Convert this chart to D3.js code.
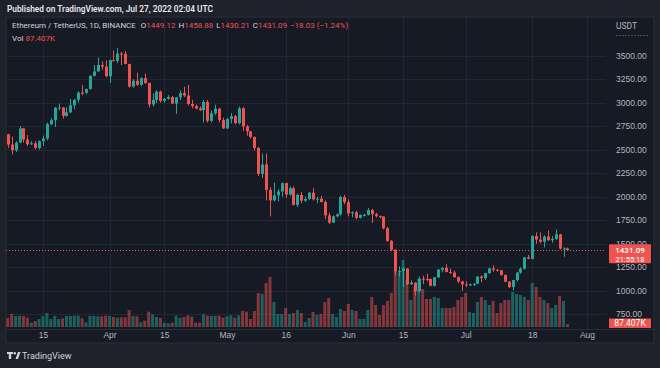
<!DOCTYPE html>
<html>
<head>
<meta charset="utf-8">
<script src="https://cdn.jsdelivr.net/npm/d3@7"></script>
<style>
  html, body { margin: 0; padding: 0; background: #1e212a; }
  svg { display: block; font-family: Roboto, "Liberation Sans", sans-serif; }
</style>
</head>
<body>
<svg class="chart"></svg>
<script>
// ETH/USDT daily candles, 6 Mar 2022 .. 27 Jul 2022
const firstDay = "2022-03-06";
const opens = [
  2665, 2555, 2495, 2575, 2727, 2608, 2558, 2568, 2518, 2591, 2620, 2772, 2814, 2945, 2948, 2861, 2897, 2972, 3031, 3108, 3106, 3146, 3286, 3333, 3401, 3385,
  3282, 3452, 3445, 3522, 3521, 3411, 3171, 3233, 3190, 3261, 3210, 2981, 3030, 3118, 3019, 3041, 3060, 2991, 3057, 3103, 3077, 2986, 2964, 2938, 2921, 3008, 2808, 2888, 2936, 2816,
  2727, 2826, 2857, 2783, 2940, 2748, 2695, 2636, 2518, 2242, 2343, 2072, 1961, 2014, 2056, 2145, 2023, 2090, 1913, 2018, 1958, 1976, 2042, 1972, 1979, 1944, 1802, 1724, 1792, 1812, 1996,
  1942, 1823, 1834, 1775, 1805, 1806, 1859, 1813, 1793, 1789, 1665, 1529, 1436, 1207, 1210, 1236, 1069, 1086, 995, 1128, 1126, 1124, 1052, 1143, 1225, 1243, 1199, 1193, 1144, 1099,
  1067, 1060, 1067, 1074, 1150, 1134, 1187, 1237, 1222, 1217, 1168, 1097, 1038, 1113, 1192, 1233, 1355, 1339, 1581, 1544, 1521, 1576, 1537, 1551, 1599, 1448, 1449.12
];
const highs = [
  2668, 2640, 2590, 2750, 2730, 2655, 2590, 2590, 2600, 2650, 2790, 2835, 2955, 2990, 2955, 2950, 3040, 3040, 3120, 3190, 3150, 3290, 3400, 3480, 3440, 3450,
  3460, 3555, 3580, 3540, 3550, 3415, 3250, 3320, 3270, 3310, 3215, 3100, 3130, 3130, 3050, 3080, 3070, 3060, 3130, 3170, 3190, 3030, 2980, 2960, 3030, 3030, 2920, 2980, 2945, 2840,
  2840, 2890, 2870, 2960, 2955, 2760, 2700, 2640, 2530, 2460, 2460, 2100, 2150, 2080, 2150, 2150, 2110, 2110, 2035, 2050, 2000, 2050, 2090, 2000, 2010, 1960, 1830, 1800, 1820, 2010,
  2020, 1970, 1845, 1850, 1810, 1820, 1880, 1870, 1830, 1800, 1790, 1680, 1540, 1440, 1260, 1250, 1240, 1110, 1090, 1150, 1160, 1180, 1130, 1145, 1230, 1250, 1280, 1235, 1215, 1150,
  1105, 1100, 1075, 1080, 1155, 1165, 1190, 1245, 1270, 1230, 1220, 1170, 1100, 1115, 1200, 1250, 1360, 1380, 1590, 1620, 1620, 1590, 1640, 1580, 1650, 1605, 1463, 1458.88
];
const lows = [
  2520, 2450, 2475, 2570, 2575, 2540, 2550, 2505, 2500, 2540, 2600, 2760, 2740, 2920, 2830, 2850, 2890, 2930, 3000, 3080, 3090, 3140, 3280, 3330, 3350, 3270,
  3210, 3440, 3420, 3400, 3410, 3160, 3160, 3180, 3180, 3200, 2950, 2960, 2995, 3000, 3000, 3030, 2985, 2880, 3030, 3060, 2970, 2940, 2930, 2910, 2790, 2790, 2790, 2870, 2790, 2720,
  2720, 2780, 2770, 2770, 2700, 2650, 2620, 2490, 2220, 2200, 1960, 1790, 1950, 1950, 2000, 1990, 2010, 1905, 1890, 1930, 1945, 1965, 1960, 1930, 1940, 1760, 1710, 1720, 1780, 1800,
  1920, 1790, 1780, 1760, 1770, 1790, 1800, 1720, 1780, 1770, 1650, 1520, 1420, 1170, 1150, 1040, 1060, 1060, 950, 980, 1070, 1100, 1045, 1045, 1135, 1195, 1195, 1180, 1140, 1080,
  1000, 1040, 1050, 1050, 1070, 1090, 1115, 1180, 1200, 1205, 1160, 1090, 1030, 1005, 1095, 1180, 1225, 1335, 1335, 1500, 1505, 1460, 1530, 1510, 1540, 1440, 1360, 1430.21
];
const closes = [
  2555, 2495, 2575, 2727, 2608, 2558, 2568, 2518, 2591, 2620, 2772, 2814, 2945, 2948, 2861, 2897, 2972, 3031, 3108, 3106, 3146, 3286, 3333, 3401, 3385, 3282,
  3452, 3445, 3522, 3521, 3411, 3171, 3233, 3190, 3261, 3210, 2981, 3030, 3118, 3019, 3041, 3060, 2991, 3057, 3103, 3077, 2986, 2964, 2938, 2921, 3008, 2808, 2888, 2936, 2816, 2727,
  2826, 2857, 2783, 2940, 2748, 2695, 2636, 2518, 2242, 2343, 2072, 1961, 2014, 2056, 2145, 2023, 2090, 1913, 2018, 1958, 1976, 2042, 1972, 1979, 1944, 1802, 1724, 1792, 1812, 1996, 1942,
  1823, 1834, 1775, 1805, 1806, 1859, 1813, 1793, 1789, 1665, 1529, 1436, 1207, 1210, 1236, 1069, 1086, 995, 1128, 1126, 1124, 1052, 1143, 1225, 1243, 1199, 1193, 1144, 1099, 1067,
  1060, 1067, 1074, 1150, 1134, 1187, 1237, 1222, 1217, 1168, 1097, 1038, 1113, 1192, 1233, 1355, 1339, 1581, 1544, 1521, 1576, 1537, 1551, 1599, 1448, 1449.12, 1431.09
];
// volume in thousands of ETH
const volumes = [
  270, 390, 330, 340, 330, 280, 130, 180, 240, 330, 420, 240, 330, 240, 260, 330, 330, 340, 340, 260, 140, 330, 330, 320, 320, 340,
  330, 300, 280, 290, 290, 510, 330, 320, 140, 190, 460, 380, 300, 270, 130, 110, 130, 340, 270, 300, 350, 310, 130, 130, 380, 340, 330, 330, 340, 280,
  320, 350, 280, 350, 480, 460, 240, 480, 1020, 1000, 1320, 1500, 750, 390, 390, 570, 390, 420, 510, 420, 150, 270, 450, 360, 390, 750, 870, 390, 300, 540, 480,
  690, 510, 480, 240, 240, 510, 900, 660, 360, 660, 780, 1020, 1740, 1650, 2010, 1410, 810, 1200, 1440, 1140, 840, 840, 900, 870, 570, 570, 570, 600, 810, 900,
  1020, 450, 420, 750, 900, 810, 660, 780, 420, 720, 810, 810, 1050, 990, 960, 900, 810, 1320, 1200, 900, 810, 720, 570, 660, 930, 780, 87.407
];

const timeTicks = ["2022-03-15", "2022-04-01", "2022-04-15", "2022-05-01", "2022-05-16", "2022-06-01", "2022-06-15", "2022-07-01", "2022-07-18", "2022-08-01"];
const timeLabels = ["15", "Apr", "15", "May", "16", "Jun", "15", "Jul", "18", "Aug"];
const priceTicks = [750, 1000, 1250, 1500, 1750, 2000, 2250, 2500, 2750, 3000, 3250, 3500];

const width = 660, height = 368;
const pane = { left: 6, top: 17, right: 606, bottom: 329, outerRight: 654, axisBottom: 343 };
const upColor = "#26a69a", downColor = "#ef5350";
const gridColor = "#232733";

const parseDay = d3.utcParse("%Y-%m-%d");
const days = opens.map((_, i) => d3.utcDay.offset(parseDay(firstDay), i));

const svg = d3.select(".chart").attr("width", width).attr("height", height);

// scales
const x = d3.scaleUtc().domain([parseDay(timeTicks[0]), parseDay(timeTicks[timeTicks.length - 1])]).range([43, 587]);
const y = d3.scaleLinear().domain([750, 3500]).range([314.2, 55.7]);
const yVol = d3.scaleLinear().domain([0, d3.max(volumes)]).range([327, 260]);

// backgrounds
svg.append("rect").attr("width", width).attr("height", height).attr("fill", "#1e212a");
svg.append("rect")
  .attr("x", pane.left).attr("y", pane.top)
  .attr("width", pane.outerRight - pane.left).attr("height", pane.axisBottom - pane.top)
  .attr("fill", "#161a25").attr("stroke", "#2a2e39");

// grid
const grid = svg.append("g");
grid.selectAll("line.v").data(timeTicks).join("line")
  .attr("x1", d => Math.round(x(parseDay(d))) + 0.5).attr("x2", d => Math.round(x(parseDay(d))) + 0.5)
  .attr("y1", pane.top).attr("y2", pane.bottom)
  .attr("stroke", gridColor);
grid.selectAll("line.h").data(priceTicks).join("line")
  .attr("x1", pane.left).attr("x2", pane.right)
  .attr("y1", d => Math.round(y(d)) + 0.5).attr("y2", d => Math.round(y(d)) + 0.5)
  .attr("stroke", gridColor);

// volume bars
svg.append("g").selectAll("rect").data(volumes).join("rect")
  .attr("x", (d, i) => x(days[i]) - 1.5)
  .attr("width", 3)
  .attr("y", d => yVol(d))
  .attr("height", d => yVol(0) - yVol(d))
  .attr("fill", (d, i) => closes[i] >= opens[i] ? upColor : downColor)
  .attr("fill-opacity", 0.5);

// candles
const candles = svg.append("g").selectAll("g").data(days).join("g")
  .attr("fill", (d, i) => closes[i] >= opens[i] ? upColor : downColor)
  .attr("stroke", (d, i) => closes[i] >= opens[i] ? upColor : downColor);
candles.append("line")
  .attr("x1", d => Math.round(x(d)) + 0.5).attr("x2", d => Math.round(x(d)) + 0.5)
  .attr("y1", (d, i) => y(highs[i])).attr("y2", (d, i) => y(lows[i]));
candles.append("rect")
  .attr("stroke", "none")
  .attr("x", d => Math.round(x(d)) - 1)
  .attr("width", 3)
  .attr("y", (d, i) => y(Math.max(opens[i], closes[i])))
  .attr("height", (d, i) => Math.max(1, Math.abs(y(opens[i]) - y(closes[i]))));

// last price line
const last = closes[closes.length - 1];
svg.append("line")
  .attr("x1", pane.left).attr("x2", pane.right)
  .attr("y1", Math.round(y(last)) + 0.5).attr("y2", Math.round(y(last)) + 0.5)
  .attr("stroke", downColor).attr("stroke-dasharray", "1,2");

// time axis
const xAxis = svg.append("g")
  .attr("transform", `translate(0,${pane.bottom})`)
  .call(d3.axisBottom(x).tickValues(timeTicks.map(parseDay)).tickFormat((d, i) => timeLabels[i]).tickSize(0).tickPadding(3));
xAxis.select(".domain").attr("stroke", "#2a2e39").attr("d", `M${pane.left},0.5H${pane.outerRight}`);
xAxis.selectAll("text").attr("fill", "#b2b5be").attr("font-size", 8.5).attr("font-family", null);

// price axis
const yAxis = svg.append("g")
  .attr("transform", `translate(${pane.right},0)`)
  .call(d3.axisRight(y).tickValues(priceTicks).tickFormat(d => d.toFixed(2)).tickSize(0).tickPadding(10));
yAxis.select(".domain").remove();
yAxis.selectAll("text").attr("fill", "#b2b5be").attr("font-size", 8.5).attr("font-family", null);

svg.append("text").attr("x", 616).attr("y", 29).attr("fill", "#b2b5be").attr("font-size", 8.5).text("USDT");
svg.append("line").attr("x1", 616).attr("x2", 648).attr("y1", 35.5).attr("y2", 35.5)
  .attr("stroke", "#4a4e59").attr("stroke-dasharray", "2,1");

// price tag
const ly = y(last);
svg.append("rect").attr("x", 609).attr("y", ly - 6).attr("width", 42).attr("height", 19).attr("rx", 1).attr("fill", downColor);
svg.append("text").attr("x", 630).attr("y", ly + 3).attr("text-anchor", "middle").attr("fill", "#fff").attr("font-size", 8).attr("font-weight", 500).text(last.toFixed(2));
svg.append("text").attr("x", 630).attr("y", ly + 11.5).attr("text-anchor", "middle").attr("fill", "#fff").attr("font-size", 7.5).text("21:55:18");

// volume tag
const lastVol = volumes[volumes.length - 1];
svg.append("rect").attr("x", 609).attr("y", 318.5).attr("width", 42).attr("height", 9.5).attr("fill", downColor);
svg.append("text").attr("x", 630).attr("y", 326).attr("text-anchor", "middle").attr("fill", "#fff").attr("font-size", 8.5).text(lastVol.toFixed(3) + "K");

// header
svg.append("text").attr("x", 7).attr("y", 12).attr("fill", "#e8e9ec").attr("font-size", 8.3).attr("font-weight", 600)
  .text("Published on TradingView.com, Jul 27, 2022 02:04 UTC");

const legend = svg.append("text").attr("x", 12).attr("y", 28).attr("font-size", 8).attr("fill", "#d1d4dc");
legend.append("tspan").text("Ethereum / TetherUS, 1D, BINANCE ");
const ohlc = [["O", opens], ["H", highs], ["L", lows], ["C", closes]];
ohlc.forEach(([k, arr]) => {
  legend.append("tspan").attr("dx", 3).text(k);
  legend.append("tspan").attr("fill", downColor).text(arr[arr.length - 1].toFixed(2));
});
const chg = last - opens[opens.length - 1];
legend.append("tspan").attr("dx", 3).attr("fill", downColor)
  .text(`\u2212${Math.abs(chg).toFixed(2)} (\u2212${Math.abs(chg / opens[opens.length - 1] * 100).toFixed(2)}%)`);

const volLegend = svg.append("text").attr("x", 12).attr("y", 41).attr("font-size", 8).attr("fill", "#d1d4dc");
volLegend.append("tspan").text("Vol ");
volLegend.append("tspan").attr("fill", downColor).text(lastVol.toFixed(3) + "K");

// footer logo
const logo = svg.append("g").attr("transform", "translate(7,352)").attr("fill", "#d1d4dc");
logo.append("path").attr("d", "M0,0H6V2H4.2V7H1.8V2H0Z");
logo.append("circle").attr("cx", 7.8).attr("cy", 1.2).attr("r", 1.2);
logo.append("path").attr("d", "M8.5,7L11,0H13.5L11,7Z");
svg.append("text").attr("x", 22).attr("y", 359).attr("fill", "#d1d4dc").attr("font-size", 9).text("TradingView");
</script>
</body>
</html>
